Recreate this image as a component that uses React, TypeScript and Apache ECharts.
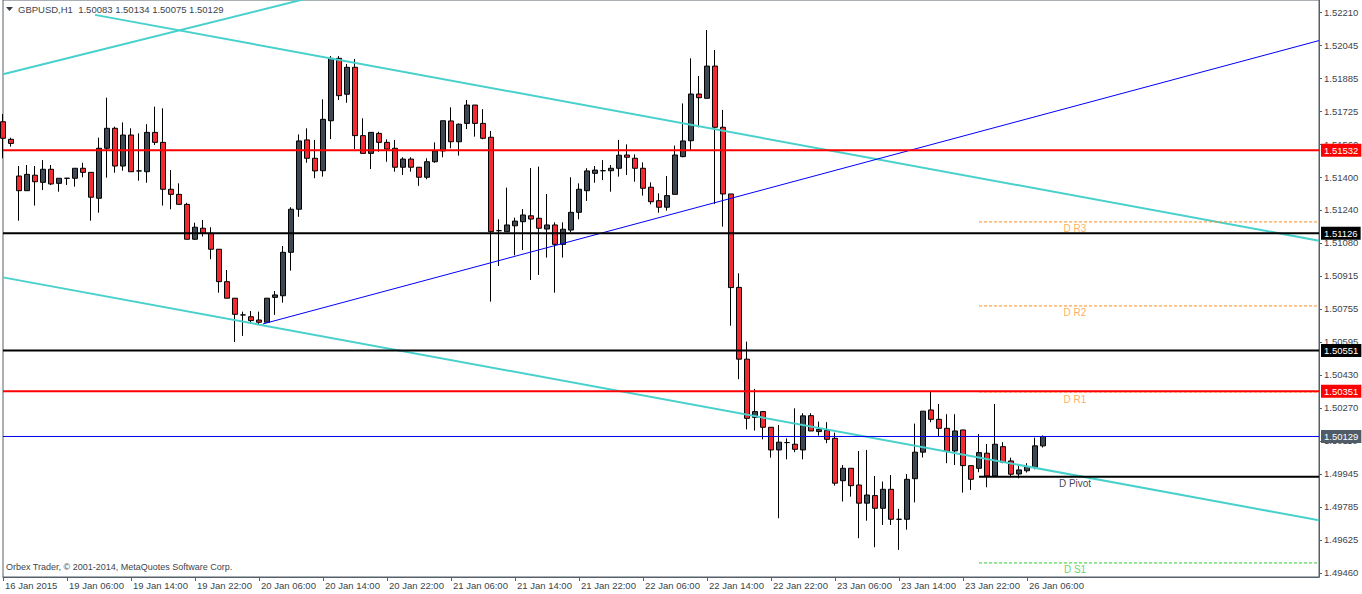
import React, { useEffect, useRef } from "react";
import * as echarts from "echarts";

// ---------- data ----------
const headerText = "GBPUSD,H1  1.50083 1.50134 1.50075 1.50129";
const footerText = "Orbex Trader, \u00a9 2001-2014, MetaQuotes Software Corp.";

const opens = [
  1.51672, 1.51586, 1.51406, 1.51334, 1.5141, 1.51375, 1.51439, 1.5137, 1.51395, 1.51395,
  1.51444, 1.51424, 1.51297, 1.51542, 1.5164, 1.51455, 1.51607, 1.51431, 1.51427, 1.5162,
  1.51571, 1.51341, 1.51316, 1.51267, 1.51096, 1.5115, 1.51125, 1.51047, 1.50888, 1.50807,
  1.50725, 1.50716, 1.507, 1.50689, 1.50811, 1.50819, 1.51032, 1.51243, 1.51583, 1.51493,
  1.51432, 1.51677, 1.51983, 1.51807, 1.51939, 1.51604, 1.51517, 1.51615, 1.51571, 1.51542,
  1.51449, 1.51489, 1.51449, 1.514, 1.51476, 1.51529, 1.51676, 1.51574, 1.51664, 1.51754,
  1.51664, 1.51596, 1.51138, 1.51133, 1.51162, 1.51182, 1.51211, 1.51199, 1.51146, 1.51166,
  1.51071, 1.51141, 1.51228, 1.51334, 1.51419, 1.51432, 1.51432, 1.51444, 1.51509, 1.51493,
  1.51444, 1.51351, 1.51285, 1.51253, 1.51316, 1.51501, 1.51579, 1.51808, 1.51787, 1.51945,
  1.51645, 1.51318, 1.5086, 1.50508, 1.50223, 1.50251, 1.50174, 1.50063, 1.50099, 1.50091,
  1.50063, 1.50231, 1.50153, 1.50158, 1.5012, 1.49912, 1.49973, 1.49891, 1.49802, 1.49839,
  1.49777, 1.4987, 1.49723, 1.49723, 1.49922, 1.50052, 1.50259, 1.50213, 1.50169, 1.50058,
  1.50161, 1.49986, 1.49973, 1.50047, 1.49935, 1.50079, 1.50009, 1.49945, 1.49961, 1.49978,
  1.50083,
];
const highs = [
  1.5171, 1.51594, 1.51455, 1.5146, 1.51455, 1.51484, 1.5146, 1.51395, 1.51395, 1.51444,
  1.51471, 1.51424, 1.51594, 1.5179, 1.51648, 1.51669, 1.5164, 1.51615, 1.5166, 1.51746,
  1.51738, 1.51435, 1.5137, 1.51275, 1.51177, 1.5119, 1.51155, 1.51047, 1.50945, 1.50807,
  1.50741, 1.50744, 1.50741, 1.50807, 1.50842, 1.51063, 1.51253, 1.5161, 1.5164, 1.51583,
  1.51782, 1.51994, 1.51994, 1.51955, 1.5198, 1.51689, 1.5162, 1.51623, 1.51586, 1.51583,
  1.51498, 1.51498, 1.51449, 1.51493, 1.51571, 1.51677, 1.51743, 1.51664, 1.51779, 1.51754,
  1.51734, 1.51627, 1.51194, 1.51349, 1.51202, 1.51244, 1.51445, 1.51452, 1.51318, 1.51179,
  1.51179, 1.514, 1.5137, 1.51444, 1.51455, 1.51484, 1.5146, 1.51583, 1.51561, 1.51512,
  1.51473, 1.51375, 1.51321, 1.51406, 1.51555, 1.51762, 1.51983, 1.51896, 1.52122, 1.52024,
  1.5173, 1.51318, 1.50929, 1.50594, 1.50362, 1.50251, 1.50174, 1.50185, 1.5012, 1.50267,
  1.50243, 1.50243, 1.50202, 1.50199, 1.50148, 1.49989, 1.49973, 1.50058, 1.50063, 1.49935,
  1.49908, 1.4994, 1.49774, 1.49945, 1.50192, 1.50253, 1.50349, 1.50288, 1.50238, 1.50238,
  1.50161, 1.49986, 1.50141, 1.50092, 1.50288, 1.50101, 1.50025, 1.49985, 1.49998, 1.50123,
  1.50134,
];
const lows = [
  1.51493, 1.5155, 1.51187, 1.51334, 1.51261, 1.51337, 1.51362, 1.51329, 1.51362, 1.51354,
  1.514, 1.51187, 1.51226, 1.51398, 1.51422, 1.51432, 1.51427, 1.51383, 1.51373, 1.51558,
  1.51261, 1.51243, 1.51267, 1.51096, 1.51092, 1.51109, 1.50998, 1.50834, 1.50807, 1.50592,
  1.50622, 1.50684, 1.50676, 1.50689, 1.50725, 1.50785, 1.50942, 1.51206, 1.51471, 1.51395,
  1.51403, 1.51587, 1.51779, 1.51765, 1.51538, 1.51517, 1.5144, 1.51525, 1.51476, 1.51427,
  1.51411, 1.51427, 1.51358, 1.5139, 1.51471, 1.51498, 1.51542, 1.51506, 1.51636, 1.51599,
  1.51586, 1.5079, 1.50965, 1.51133, 1.51017, 1.51043, 1.50896, 1.50921, 1.51006, 1.50834,
  1.51006, 1.5113, 1.51194, 1.51284, 1.51373, 1.51386, 1.51329, 1.51403, 1.51411, 1.51378,
  1.5131, 1.51267, 1.51226, 1.51236, 1.51316, 1.51498, 1.51533, 1.51645, 1.51787, 1.51269,
  1.51158, 1.50672, 1.5041, 1.50164, 1.50158, 1.50115, 1.50025, 1.49728, 1.50017, 1.50052,
  1.50017, 1.50156, 1.50133, 1.50096, 1.49888, 1.4981, 1.49834, 1.4963, 1.49716, 1.49586,
  1.49695, 1.49695, 1.49573, 1.49672, 1.49806, 1.50026, 1.50199, 1.50128, 1.49998, 1.49989,
  1.49854, 1.49867, 1.49954, 1.4988, 1.49935, 1.49998, 1.49935, 1.49924, 1.49952, 1.49968,
  1.50075,
];
const closes = [
  1.51591, 1.51566, 1.51334, 1.51414, 1.51378, 1.51439, 1.51367, 1.51395, 1.51395, 1.51444,
  1.51424, 1.51302, 1.51542, 1.5164, 1.51455, 1.51607, 1.51427, 1.51431, 1.5162, 1.51571,
  1.51341, 1.51316, 1.51267, 1.51096, 1.51155, 1.51125, 1.51047, 1.50888, 1.50807, 1.50728,
  1.50725, 1.50697, 1.50689, 1.50807, 1.50823, 1.51032, 1.51243, 1.51578, 1.51493, 1.51431,
  1.51684, 1.51983, 1.518, 1.51939, 1.51604, 1.51517, 1.5162, 1.51571, 1.51538, 1.51449,
  1.51489, 1.51449, 1.514, 1.51476, 1.51529, 1.51677, 1.51574, 1.5166, 1.51754, 1.51664,
  1.51591, 1.51133, 1.51138, 1.51166, 1.51185, 1.51215, 1.51195, 1.5115, 1.51166, 1.51071,
  1.51145, 1.51228, 1.51341, 1.51431, 1.51435, 1.51432, 1.51444, 1.51508, 1.51498, 1.51444,
  1.51346, 1.5128, 1.51253, 1.5131, 1.51509, 1.51578, 1.51808, 1.5179, 1.51945, 1.51645,
  1.51318, 1.50859, 1.50508, 1.50218, 1.50251, 1.50174, 1.50063, 1.50101, 1.50099, 1.50066,
  1.5023, 1.50156, 1.50164, 1.50115, 1.499, 1.49973, 1.49888, 1.49802, 1.49842, 1.49777,
  1.4987, 1.49723, 1.49723, 1.49919, 1.50052, 1.50253, 1.50213, 1.50169, 1.50056, 1.50156,
  1.49986, 1.49919, 1.5005, 1.49935, 1.50091, 1.50003, 1.49944, 1.49965, 1.49981, 1.50083,
  1.50129,
];

// x-axis: bar index of each time label
const xTickBars = [0, 8, 16, 24, 32, 40, 48, 56, 64, 72, 80, 88, 96, 104, 112, 120, 128];
const xTickLabels = [
  "16 Jan 2015", "19 Jan 06:00", "19 Jan 14:00", "19 Jan 22:00", "20 Jan 06:00",
  "20 Jan 14:00", "20 Jan 22:00", "21 Jan 06:00", "21 Jan 14:00", "21 Jan 22:00",
  "22 Jan 06:00", "22 Jan 14:00", "22 Jan 22:00", "23 Jan 06:00", "23 Jan 14:00",
  "23 Jan 22:00", "26 Jan 06:00",
];
const yTickLabels = [
  "1.52210", "1.52045", "1.51885", "1.51725", "1.51560", "1.51400", "1.51240", "1.51080",
  "1.50915", "1.50755", "1.50595", "1.50430", "1.50270", "1.50110", "1.49945", "1.49785",
  "1.49625", "1.49460",
];

// horizontal levels (full width, with price tags)
const levelPrices = [1.51532, 1.51126, 1.50551, 1.50351];
const bidPrice = closes[closes.length - 1];

// daily pivots
const pivotNames = ["D R3", "D R2", "D R1", "D Pivot", "D S1"];
const pivotValues = [1.51181, 1.50769, 1.50347, 1.49931, 1.49509];
const pivotStartBar = 122;
const pivotLabelBar = 134;

// trend lines: [bar, price] anchors
const cyanLineA = [[0, 1.51905], [40, 1.52296]];
const cyanLineB = [[11.5, 1.52196], [164.5, 1.51089]];
const cyanLineC = [[0, 1.50909], [164.5, 1.49718]];
const blueLine = [[32.5, 1.50681], [164.5, 1.5207]];

// visible extents
const xMin = 0;
const xMax = 164.5;
const yMin = 1.4944;
const yMax = 1.52269;

// ---------- styles ----------
const FONT = "Liberation Sans";
const FRAME = "#56606a";
const TEXT = "#3d444c";
const BULL = "#3e4853";
const BEAR = "#f22a31";
const CYAN = "#48d1cc";
const levelColors = ["#ff0000", "#000000", "#000000", "#ff0000"];
const pivotColors = ["#ff8c1a", "#ff8c1a", "#ff8c1a", "#000000", "#32cd32"];
const pivotLabelColors = ["#ff9a33", "#ff9a33", "#ff9a33", "#0a0a28", "#3ccc3c"];

export default function App() {
  const ref = useRef<HTMLDivElement>(null);

  useEffect(() => {
    if (!ref.current) return;
    const chart = echarts.init(ref.current, null, { renderer: "svg" });

    const yFirst = parseFloat(yTickLabels[0]);
    const yLast = parseFloat(yTickLabels[yTickLabels.length - 1]);
    const yStep = (yFirst - yLast) / (yTickLabels.length - 1);
    const yTickValues = yTickLabels.map((_, i) => yFirst - i * yStep);

    const candleData = opens.map((o, i) => [i, o, closes[i], lows[i], highs[i]]);

    const trend = (pts: number[][], color: string, width: number) => ({
      type: "line",
      data: pts,
      symbol: "none",
      silent: true,
      clip: true,
      z: 4,
      lineStyle: { color, width },
    });

    const tagLabel = (text: string, bg: string) => ({
      show: true,
      formatter: () => text,
      color: "#ffffff",
      backgroundColor: bg,
      padding: [2, 3, 1, 3],
      distance: 2,
      fontSize: 9.5,
      fontFamily: FONT,
    });

    const levelSeries = levelPrices.map((p, i) => ({
      type: "line",
      data: [[xMin, p], [xMax, p]],
      symbol: "none",
      silent: true,
      z: 5,
      lineStyle: { color: levelColors[i], width: 2 },
      endLabel: tagLabel(p.toFixed(5), levelColors[i]),
    }));

    const bidSeries = {
      type: "line",
      data: [[xMin, bidPrice], [xMax, bidPrice]],
      symbol: "none",
      silent: true,
      z: 5,
      lineStyle: { color: "#0000ee", width: 1 },
      endLabel: tagLabel(bidPrice.toFixed(5), "#4f5b66"),
    };

    const pivotSeries = pivotValues.map((p, i) => ({
      type: "line",
      data: [[pivotStartBar, p], [xMax, p]],
      symbol: "none",
      silent: true,
      z: 5,
      lineStyle: {
        color: pivotColors[i],
        width: pivotNames[i] === "D Pivot" ? 2 : 1,
        type: pivotNames[i] === "D Pivot" ? "solid" : [3, 2],
      },
    }));

    const pivotLabelSeries = {
      type: "scatter",
      silent: true,
      z: 6,
      symbolSize: 1,
      itemStyle: { color: "rgba(0,0,0,0)" },
      data: pivotValues.map((p, i) => ({
        value: [pivotLabelBar, p],
        label: {
          show: true,
          position: "inside",
          offset: [0, 7],
          formatter: pivotNames[i],
          color: pivotLabelColors[i],
          fontSize: 10,
          fontFamily: FONT,
        },
      })),
    };

    chart.setOption({
      animation: false,
      backgroundColor: "#ffffff",
      grid: {
        left: 3,
        right: 43,
        top: 0,
        bottom: 17,
        show: true,
        borderColor: FRAME,
        borderWidth: 1,
        backgroundColor: "#ffffff",
      },
      xAxis: {
        type: "value",
        min: xMin,
        max: xMax,
        splitLine: { show: false },
        axisLine: { show: true, onZero: false, lineStyle: { color: FRAME } },
        axisTick: {
          show: true,
          length: 4,
          customValues: xTickBars,
          lineStyle: { color: FRAME },
        },
        axisLabel: {
          customValues: xTickBars,
          formatter: (v: number) => xTickLabels[xTickBars.indexOf(Math.round(v))] ?? "",
          align: "left",
          padding: [0, 0, 0, 2],
          margin: 3,
          color: TEXT,
          fontSize: 9.5,
          fontFamily: FONT,
        },
      },
      yAxis: {
        type: "value",
        position: "right",
        min: yMin,
        max: yMax,
        scale: true,
        splitLine: { show: false },
        axisLine: { show: true, onZero: false, lineStyle: { color: FRAME } },
        axisTick: {
          show: true,
          length: 3,
          customValues: yTickValues,
          lineStyle: { color: FRAME },
        },
        axisLabel: {
          customValues: yTickValues,
          formatter: (v: number) => yTickLabels[Math.round((yFirst - v) / yStep)] ?? "",
          margin: 5,
          color: TEXT,
          fontSize: 9.5,
          fontFamily: FONT,
        },
      },
      graphic: [
        {
          type: "polygon",
          shape: { points: [[6, 7], [13, 7], [9.5, 11]] },
          style: { fill: "#3a3f46" },
          z: 100,
        },
        {
          type: "text",
          left: 18,
          top: 4,
          style: { text: headerText, fill: TEXT, fontSize: 9.5, fontFamily: FONT },
          z: 100,
        },
        {
          type: "text",
          left: 6,
          top: 562,
          style: { text: footerText, fill: TEXT, fontSize: 9, fontFamily: FONT },
          z: 100,
        },
      ],
      series: [
        {
          type: "candlestick",
          data: candleData,
          dimensions: ["bar", "open", "close", "lowest", "highest"],
          encode: { x: 0, y: [1, 2, 3, 4] },
          barWidth: 5,
          clip: true,
          silent: true,
          z: 2,
          itemStyle: {
            color: BULL,
            color0: BEAR,
            borderColor: "#000000",
            borderColor0: "#000000",
            borderColorDoji: "#000000",
            borderWidth: 1,
          },
        },
        trend(cyanLineA, CYAN, 2),
        trend(cyanLineB, CYAN, 2),
        trend(cyanLineC, CYAN, 2),
        trend(blueLine, "#0000ff", 1),
        ...pivotSeries,
        pivotLabelSeries,
        bidSeries,
        ...levelSeries,
      ],
    });

    return () => chart.dispose();
  }, []);

  return (
    <div
      ref={ref}
      style={{ position: "absolute", left: 0, top: 0, width: 1362, height: 594, background: "#ffffff" }}
    />
  );
}
